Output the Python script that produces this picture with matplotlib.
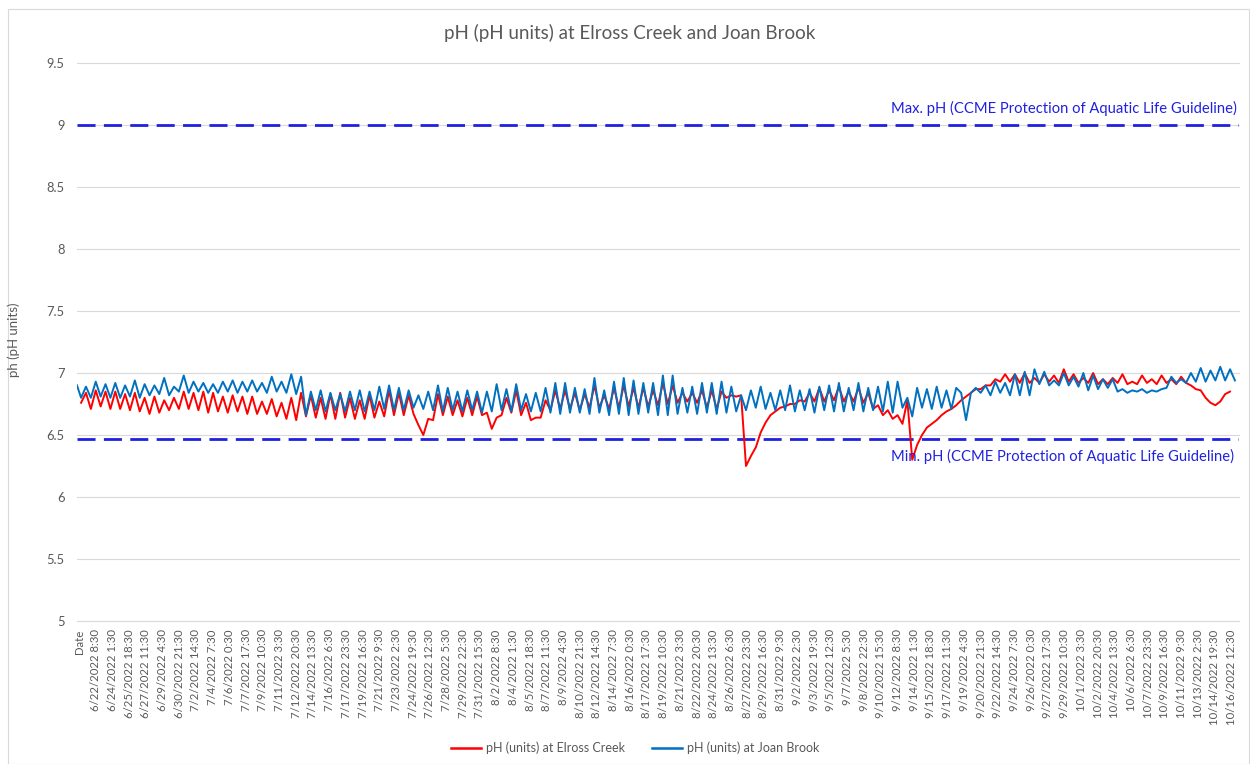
import numpy as np
import pandas as pd
import matplotlib
matplotlib.use("Agg")
import matplotlib.pyplot as plt
from matplotlib.patches import Rectangle
from matplotlib.lines import Line2D

plt.rcParams['font.family'] = ['Lato', 'DejaVu Sans']

# ---------------- data ----------------
title = "pH (pH units) at Elross Creek and Joan Brook"
y_label = "ph (pH units)"
series_names = ["pH (units) at Elross Creek", "pH (units) at Joan Brook"]
max_label = "Max. pH (CCME Protection of Aquatic Life Guideline)"
min_label = "Min. pH (CCME Protection of Aquatic Life Guideline)"
max_ph = 9.0
min_ph = 6.47
y_ticks = [5, 5.5, 6, 6.5, 7, 7.5, 8, 8.5, 9, 9.5]
y_tick_labels = ["5", "5.5", "6", "6.5", "7", "7.5", "8", "8.5", "9", "9.5"]

# category labels: "Date" header, then every 41st hourly reading
first_label_time = "2022-06-22 08:30"
label_step_hours = 41
n_date_labels = 69
_dates = pd.date_range(first_label_time, periods=n_date_labels, freq=f"{label_step_hours}h")
x_tick_labels = ["Date"] + [f"{d.month}/{d.day}/{d.year} {d.hour}:{d.minute:02d}" for d in _dates]

# daily low / high readings (pH), day 0 .. day 117
elross_lo = [6.76, 6.71, 6.73, 6.71, 6.71, 6.70, 6.69, 6.67, 6.68, 6.70, 6.71, 6.71, 6.70, 6.68, 6.69, 6.68, 6.69, 6.67, 6.67, 6.67, 6.65, 6.63, 6.62,
             6.65, 6.64, 6.63, 6.63, 6.64, 6.63, 6.63, 6.64, 6.65, 6.66, 6.66, 6.67, 6.50, 6.62, 6.66, 6.66, 6.65, 6.66, 6.66, 6.55, 6.66, 6.68, 6.66, 6.62,
             6.64, 6.70, 6.71, 6.71, 6.70, 6.72, 6.72, 6.71, 6.72, 6.73, 6.72, 6.73, 6.74, 6.75, 6.76, 6.77, 6.76, 6.72, 6.71, 6.80, 6.81,
             6.25, 6.40, 6.60, 6.69, 6.73, 6.75,
             6.77, 6.77, 6.77, 6.78, 6.77, 6.77, 6.76, 6.71, 6.66, 6.63, 6.59, 6.30, 6.50, 6.59, 6.66, 6.71, 6.78, 6.84, 6.87, 6.90,
             6.93, 6.93, 6.92, 6.92, 6.92, 6.93, 6.92, 6.93, 6.92, 6.92, 6.91, 6.91, 6.92, 6.91, 6.91, 6.92, 6.91, 6.92, 6.91, 6.92, 6.87, 6.80, 6.74, 6.83]
elross_hi = [6.84, 6.86, 6.85, 6.85, 6.83, 6.84, 6.80, 6.81, 6.78, 6.80, 6.85, 6.84, 6.85, 6.84, 6.81, 6.82, 6.81, 6.81, 6.77, 6.79, 6.76, 6.80, 6.84,
             6.82, 6.80, 6.83, 6.84, 6.80, 6.78, 6.82, 6.77, 6.86, 6.84, 6.82, 6.58, 6.63, 6.83, 6.81, 6.78, 6.80, 6.81, 6.68, 6.64, 6.80, 6.86, 6.76, 6.64,
             6.78, 6.86, 6.86, 6.84, 6.83, 6.90, 6.82, 6.88, 6.90, 6.88, 6.88, 6.86, 6.92, 6.90, 6.84, 6.84, 6.86, 6.86, 6.85, 6.82, 6.82,
             6.33, 6.52, 6.66, 6.72, 6.75, 6.78,
             6.84, 6.88, 6.86, 6.89, 6.85, 6.88, 6.84, 6.74, 6.70, 6.66, 6.78, 6.42, 6.56, 6.62, 6.69, 6.74, 6.81, 6.87, 6.90, 6.95,
             6.99, 6.99, 7.00, 6.96, 6.99, 6.98, 7.03, 6.99, 6.96, 7.00, 6.95, 6.96, 6.99, 6.93, 6.98, 6.95, 6.98, 6.95, 6.97, 6.90, 6.86, 6.76, 6.77, 6.85]

joan_first = 6.90
joan_last = 6.94
joan_lo = [6.80, 6.80, 6.81, 6.80, 6.80, 6.81, 6.80, 6.82, 6.83, 6.82, 6.85, 6.84, 6.85, 6.84, 6.84, 6.85, 6.84, 6.85, 6.85, 6.84, 6.85, 6.84, 6.83,
           6.66, 6.70, 6.69, 6.70, 6.69, 6.70, 6.69, 6.70, 6.71, 6.70, 6.70, 6.72, 6.71, 6.70, 6.69, 6.70, 6.69, 6.70, 6.68, 6.69, 6.70, 6.69, 6.70, 6.69,
           6.69, 6.68, 6.67, 6.68, 6.68, 6.67, 6.68, 6.66, 6.67, 6.66, 6.67, 6.68, 6.66, 6.66, 6.67, 6.68, 6.67, 6.68, 6.67, 6.68, 6.69, 6.70, 6.72, 6.71,
           6.70, 6.70, 6.69, 6.70, 6.68, 6.70, 6.69, 6.69, 6.70, 6.69, 6.70, 6.69, 6.68, 6.72, 6.65, 6.72, 6.71, 6.72, 6.71, 6.84,
           6.84, 6.84, 6.82, 6.84, 6.82, 6.82, 6.82, 6.91, 6.90, 6.90, 6.90, 6.89, 6.86, 6.87, 6.88, 6.85, 6.84, 6.85, 6.84, 6.85, 6.88, 6.92, 6.92, 6.93, 6.93, 6.94, 6.94]
joan_hi = [6.89, 6.93, 6.91, 6.92, 6.90, 6.94, 6.91, 6.90, 6.96, 6.89, 6.98, 6.93, 6.92, 6.91, 6.93, 6.94, 6.93, 6.94, 6.92, 6.97, 6.93, 6.99, 6.97,
           6.85, 6.86, 6.84, 6.83, 6.85, 6.86, 6.85, 6.89, 6.90, 6.88, 6.86, 6.82, 6.85, 6.90, 6.88, 6.85, 6.86, 6.85, 6.85, 6.91, 6.87, 6.91, 6.83, 6.84,
           6.88, 6.92, 6.92, 6.88, 6.87, 6.96, 6.86, 6.93, 6.96, 6.94, 6.92, 6.92, 6.98, 6.98, 6.88, 6.89, 6.92, 6.92, 6.93, 6.89, 6.82, 6.86, 6.89, 6.84,
           6.86, 6.90, 6.86, 6.87, 6.89, 6.90, 6.92, 6.88, 6.92, 6.88, 6.89, 6.93, 6.93, 6.80, 6.88, 6.87, 6.89, 6.86, 6.88, 6.62,
           6.88, 6.90, 6.93, 6.92, 6.99, 7.01, 7.03, 7.01, 6.94, 7.00, 6.97, 7.00, 6.98, 6.95, 6.95, 6.87, 6.86, 6.87, 6.86, 6.87, 6.97, 6.95, 7.00, 7.04, 7.02, 7.05, 7.03]

LO_HOUR, HI_HOUR = 5, 17   # hour within each day at which low / high are placed


def daily_series(lo, hi):
    t, v = [], []
    for d, (a, b) in enumerate(zip(lo, hi)):
        t += [24 * d + LO_HOUR, 24 * d + HI_HOUR]
        v += [a, b]
    return t, v


t_red, v_red = daily_series(elross_lo, elross_hi)
t_blue, v_blue = daily_series(joan_lo, joan_hi)
t_blue = [-5] + t_blue + [24 * len(joan_lo) + LO_HOUR]
v_blue = [joan_first] + v_blue + [joan_last]

# ---------------- figure ----------------
W, H = 1250, 764
fig = plt.figure(figsize=(W / 100, H / 100), dpi=100)
fig.patch.set_facecolor("white")
L, R, T, B = 77, 1239, 63, 621
ax = fig.add_axes([L / W, 1 - B / H, (R - L) / W, (B - T) / H])
ax.set_xlim(-5, 2847)
ax.set_ylim(5, 9.5)

for s in ax.spines.values():
    s.set_visible(False)

grey = "#595959"
for y in y_ticks:
    ax.axhline(y, color="#d9d9d9", lw=0.8, zorder=0, clip_on=False)

ax.set_yticks(y_ticks)
ax.set_yticklabels(y_tick_labels)
ax.tick_params(axis="y", length=0, pad=9, labelsize=9.3, labelcolor=grey)

xt = [label_step_hours * k for k in range(len(x_tick_labels))]
ax.set_xticks(xt)
ax.set_xticklabels(x_tick_labels, rotation=90, ha="center", va="top")
ax.tick_params(axis="x", length=0, pad=6, labelsize=8.2, labelcolor=grey)

guide_c = "#2020e0"
ax.axhline(max_ph, color=guide_c, lw=2, ls=(0, (6.5, 3)), zorder=1)
ax.axhline(min_ph, color=guide_c, lw=2, ls=(0, (6.5, 3)), zorder=1)
ax.text(0.998, max_ph + 0.13, max_label, transform=ax.get_yaxis_transform(),
        ha="right", va="center", color=guide_c, fontsize=10.6)
ax.text(0.996, min_ph - 0.14, min_label, transform=ax.get_yaxis_transform(),
        ha="right", va="center", color=guide_c, fontsize=10.6)

ax.plot(t_red, v_red, color="#ff0000", lw=1.4, zorder=2)
ax.plot(t_blue, v_blue, color="#0070c0", lw=1.4, zorder=3)

fig.text(0.504, 1 - 33 / H, title, ha="center", va="center", fontsize=13.5, color=grey)
fig.text(14 / W, 1 - 340 / H, y_label, rotation=90, ha="center", va="center", fontsize=9.5, color=grey)

handles = [Line2D([], [], color="#ff0000", lw=1.8), Line2D([], [], color="#0070c0", lw=1.8)]
fig.legend(handles, series_names, loc="center", bbox_to_anchor=(0.508, 1 - 748 / H), ncol=2,
           frameon=False, fontsize=9, labelcolor=grey, handlelength=2.4, handletextpad=0.4,
           columnspacing=2.2)

fig.add_artist(Rectangle((8 / W, 0.5 / H), (W - 9) / W, (H - 9) / H, transform=fig.transFigure,
                         fill=False, edgecolor="#d9d9d9", lw=0.8))

fig.savefig("out.png", dpi=100)
